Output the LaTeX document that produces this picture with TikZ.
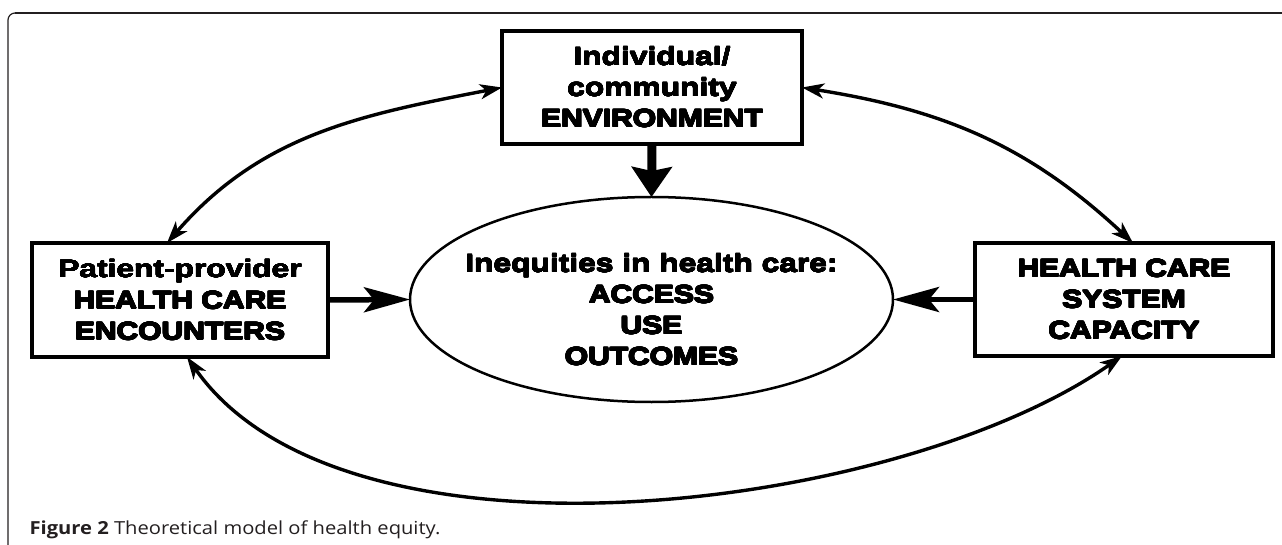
\documentclass[tikz,border=0pt]{standalone}
\usepackage{fontspec}
\usepackage{contour}
\contourlength{0.55pt}
\contournumber{16}
\setmainfont{Liberation Sans}
\newfontfamily\diagfont[FakeStretch=1.27]{Liberation Sans}
\newfontfamily\blackfont[FakeStretch=1.2]{Liberation Sans}
\newfontfamily\capfont[FakeStretch=1.12]{Open Sans}
\newcommand\heavy[1]{{\blackfont\bfseries\contourlength{0.6pt}\contour{black}{#1}}}
\newcommand\medium[1]{{\diagfont\bfseries\contourlength{0.25pt}\contour{black}{#1}}}
\usetikzlibrary{arrows.meta,shapes.geometric,calc}
\definecolor{framegray}{HTML}{231F20}
\tikzset{
  box/.style={draw, line width=3.3pt, inner sep=0pt, outer sep=0pt, align=center,
    font=\fontsize{25pt}{31pt}\selectfont},
  thickarrow/.style={line width=9pt, -{Stealth[length=30pt,width=40pt,inset=4pt]}},
  sidearrow/.style={line width=5.5pt, -{Stealth[length=46pt,width=25pt,inset=10pt]}},
  loop/.style={line width=3.4pt, {Stealth[length=22pt,width=15pt,inset=6pt]}-{Stealth[length=22pt,width=15pt,inset=6pt]}},
}
\begin{document}
\begin{tikzpicture}[x=1pt,y=1pt]
\useasboundingbox (0,0) rectangle (1282,-545);
% frame
\draw[framegray, line width=1.2pt, rounded corners=7pt] (8,-545) -- (8,-13) -- (40,-13);
\draw[framegray, line width=2.2pt] (15,-13) -- (1282,-13);
% boxes
\node[box, minimum width=300pt, minimum height=113pt] (tb) at (652,-87.5)
  {\medium{Individual/}\\ \medium{community}\\ \heavy{ENVIRONMENT}};
\node[box, minimum width=296pt, minimum height=114pt] (lb) at (180,-300)
  {\medium{Patient-provider}\\ \heavy{HEALTH CARE}\\ \heavy{ENCOUNTERS}};
\node[box, minimum width=298pt, minimum height=113pt] (rb) at (1124,-299.5)
  {\heavy{HEALTH CARE}\\ \heavy{SYSTEM}\\ \heavy{CAPACITY}};
% ellipse
\node[draw, ellipse, line width=2.5pt, inner sep=0pt, outer sep=0pt,
  minimum width=483pt, minimum height=205pt] (ell) at (651.5,-299.5) {};
\node[align=center, font=\fontsize{25pt}{31pt}\selectfont] (elltxt) at (651.5,-310)
  {\medium{Inequities in health care:}\\ \heavy{ACCESS}\\ \heavy{USE}\\ \heavy{OUTCOMES}};
% arrows
\draw[thickarrow] (tb.south) -- (ell.north);
\draw[sidearrow] (lb.east) -- (ell.west);
\draw[sidearrow] (rb.west) -- (ell.east);
\draw[loop] ([xshift=-13pt]lb.north) to[out=49,in=191] (tb.west);
\draw[loop] (tb.east) to[out=-9,in=137] ([xshift=9pt]rb.north);
\draw[loop] ([xshift=7pt]lb.south) to[out=-55,in=215,looseness=0.75] ([xshift=-2pt]rb.south);
% caption
\node[anchor=base west, text=framegray, font=\capfont\fontsize{18pt}{20pt}\selectfont] (cap) at (26,-534.5)
  {\textbf{Figure 2} Theoretical model of health equity.};
\end{tikzpicture}
\end{document}
